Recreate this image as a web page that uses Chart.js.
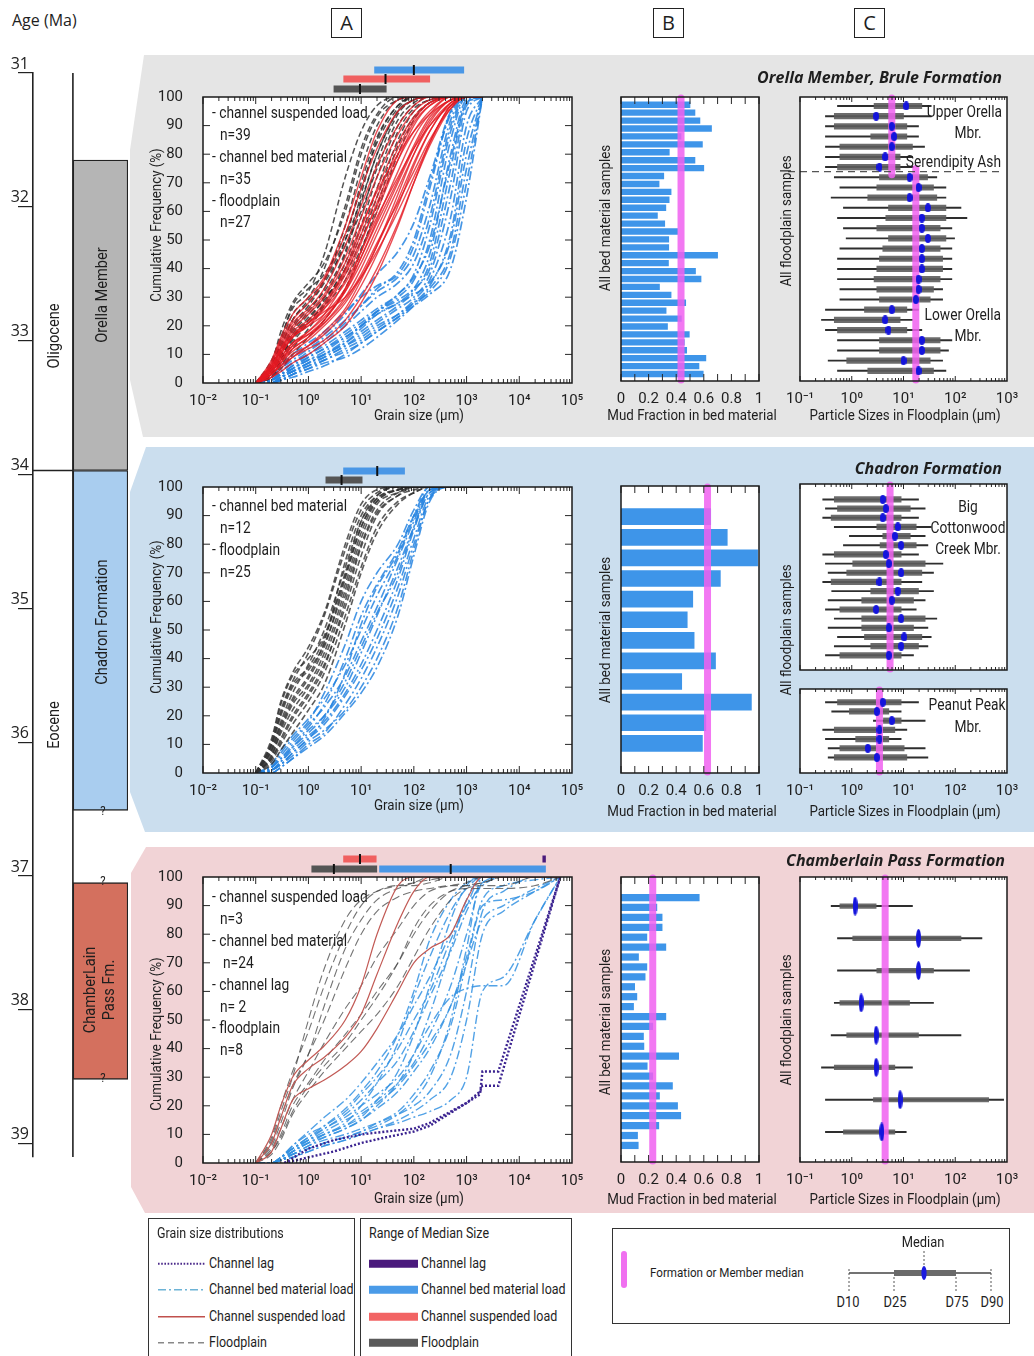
<!DOCTYPE html>
<html lang="en">
<head>
<meta charset="utf-8">
<title>Grain size distributions, White River Group</title>
<script src="https://cdn.jsdelivr.net/npm/chart.js@4.4.1/dist/chart.umd.min.js"></script>
<style>
  html, body { margin: 0; padding: 0; background: #fff; }
  body { position: relative; width: 1034px; height: 1356px; overflow: hidden;
         font-family: Roboto, sans-serif; color: #1e1e1e; }
  .bg { position: absolute; left: 128px; width: 906px; }
  #bg-orella  { top: 55px;  height: 382px; background: #e5e5e5;
                clip-path: polygon(16px 0, 906px 0, 906px 382px, 15px 382px, 2px 325px, 2px 95px); }
  #bg-chadron { top: 447px; height: 385px; background: #cbdeee;
                clip-path: polygon(18px 0, 906px 0, 906px 385px, 17px 385px, 2px 345px, 2px 45px); }
  #bg-chamber { top: 847px; height: 366px; background: #f1d3d6;
                clip-path: polygon(18px 0, 906px 0, 906px 366px, 17px 366px, 3px 340px, 3px 26px); }
  canvas { position: absolute; z-index: 2; }
  .t { position: absolute; z-index: 5; white-space: nowrap; line-height: 1; font-size: 15px; }
  .head { font-family: "Open Sans", sans-serif; font-weight: bold; font-style: italic; font-size: 16px; }
  .letter { position: absolute; top: 8px; width: 29px; height: 28px; border: 1.3px solid #222;
            font-family: "Open Sans", sans-serif; font-size: 20px; line-height: 28px; text-align: center; }
  .age { position: absolute; left: 12px; top: 9px; font-family: "Open Sans", sans-serif; font-size: 16px; }
  .legbox { position: absolute; border: 1.4px solid #333; background: #fff; z-index: 3; }
  .legbox .row { position: absolute; left: 8px; font-size: 14.5px; line-height: 1; white-space: nowrap;
                 display: flex; align-items: center; transform: translateY(-50%); }
  .legbox svg { display: block; margin-right: 2px; }
  .sq { display: inline-block; transform: scaleX(0.86); transform-origin: left center; }
</style>
</head>
<body>

<div id="bg-orella" class="bg"></div>
<div id="bg-chadron" class="bg"></div>
<div id="bg-chamber" class="bg"></div>

<div class="age">Age (Ma)</div>
<div class="letter" style="left:331px">A</div>
<div class="letter" style="left:653px">B</div>
<div class="letter" style="left:854px">C</div>

<!-- legend -->
<div class="legbox" style="left:148px; top:1218px; width:205px; height:140px">
  <div class="row" style="top:15px"><span class="sq">Grain size distributions</span></div>
  <div class="row" style="top:45px"><svg width="50" height="10"><line x1="1" y1="5" x2="48" y2="5" stroke="#4b2a8a" stroke-width="2" stroke-dasharray="1.6 1.6"/></svg><span class="sq">Channel lag</span></div>
  <div class="row" style="top:71px"><svg width="50" height="10"><line x1="1" y1="5" x2="48" y2="5" stroke="#6db3d6" stroke-width="1.4" stroke-dasharray="8 3 2 3"/></svg><span class="sq">Channel bed material load</span></div>
  <div class="row" style="top:98px"><svg width="50" height="10"><line x1="1" y1="5" x2="48" y2="5" stroke="#c0504d" stroke-width="1.4"/></svg><span class="sq">Channel suspended load</span></div>
  <div class="row" style="top:124px"><svg width="50" height="10"><line x1="1" y1="5" x2="48" y2="5" stroke="#888" stroke-width="1.4" stroke-dasharray="6 4"/></svg><span class="sq">Floodplain</span></div>
</div>
<div class="legbox" style="left:360px; top:1218px; width:210px; height:140px">
  <div class="row" style="top:15px"><span class="sq">Range of Median Size</span></div>
  <div class="row" style="top:45px"><svg width="50" height="10"><rect x="0" y="1" width="49" height="8" fill="#4a1a7c"/></svg><span class="sq">Channel lag</span></div>
  <div class="row" style="top:71px"><svg width="50" height="10"><rect x="0" y="1" width="49" height="8" fill="#4a9be8"/></svg><span class="sq">Channel bed material load</span></div>
  <div class="row" style="top:98px"><svg width="50" height="10"><rect x="0" y="1" width="49" height="8" fill="#f26464"/></svg><span class="sq">Channel suspended load</span></div>
  <div class="row" style="top:124px"><svg width="50" height="10"><rect x="0" y="1" width="49" height="8" fill="#5a5a5a"/></svg><span class="sq">Floodplain</span></div>
</div>
<div class="legbox" style="left:612px; top:1228px; width:396px; height:94px">
  <svg width="396" height="94" style="position:absolute;left:0;top:0">
    <rect x="8" y="22" width="6" height="37" rx="3" fill="#f070f0"/>
    <line x1="236" y1="44" x2="378" y2="44" stroke="#444" stroke-width="1.3"/>
    <rect x="281" y="41" width="62" height="6" fill="#6a6a6a"/>
    <ellipse cx="311" cy="44" rx="2.6" ry="7" fill="#1a1ae0"/>
    <g stroke="#555" stroke-width="1" stroke-dasharray="2 2">
      <line x1="311" y1="22" x2="311" y2="36"/>
      <line x1="236" y1="40" x2="236" y2="63"/>
      <line x1="281" y1="48" x2="281" y2="63"/>
      <line x1="343" y1="48" x2="343" y2="63"/>
      <line x1="378" y1="40" x2="378" y2="63"/>
    </g>
  </svg>
</div>

<script>
var FONT = "Roboto, sans-serif";

// ── stratigraphic column ─────────────────────────────────────────────────────
var ageTicks = [31, 32, 33, 34, 35, 36, 37, 38, 39];
var columnBottom = 39.1;
var epochBoundary = 33.97;           // Oligocene / Eocene
var formationNames = ["Orella Member", "Chadron Formation", "ChamberLain Pass Fm."];
var formationAges = [[31.65, 33.97], [33.97, 36.51], [37.05, 38.52]];

// ── shared grain-size grids (µm) ─────────────────────────────────────────────
var grainGrid   = [0.1, 0.2, 0.3, 0.5, 1, 2, 5, 10, 20, 50, 100, 200, 500, 1000, 2000];
var chamberGrid = [0.1, 0.2, 0.3, 0.5, 1, 2, 5, 10, 20, 50, 100, 200, 500, 1000, 2000, 5000, 20000, 60000];
var lagGrid     = [0.35, 1, 3, 10, 30, 100, 200, 1000, 1800, 2000, 4000, 60000];

// ── Orella Member, Brule Formation ──────────────────────────────────────────
var orellaSuspended = [
  [0,5,10,16,20,26,38,50,62,78,88,95,100,100,100],
  [0,4,8,13,17,22,32,42,54,70,82,92,99,100,100],
  [0,6,12,18,22,28,40,54,68,84,93,98,100,100,100],
  [0,3,7,11,15,20,28,37,48,64,77,88,98,100,100],
  [0,7,14,21,26,33,48,62,76,90,97,100,100,100,100],
  [0,4,9,14,18,23,32,44,57,74,86,94,100,100,100],
  [0,5,11,17,21,26,35,46,58,72,82,90,97,100,100],
  [0,3,6,10,13,17,25,34,45,62,76,88,98,100,100],
  [0,6,13,20,25,31,44,58,72,87,95,99,100,100,100],
  [0,4,8,12,16,21,30,40,52,68,80,90,98,100,100],
  [0,2,5,9,13,18,26,36,48,66,80,91,99,100,100],
  [0,8,16,24,30,37,55,72,88,99,100,100,100,100,100],
  [0,5,9,14,17,21,29,38,49,63,74,85,96,100,100],
  [0,3,7,12,16,22,33,46,60,78,90,97,100,100,100],
  [0,4,8,13,18,24,36,49,63,80,91,97,100,100,100],
  [0,6,11,16,20,24,33,44,56,71,83,93,99,100,100],
  [0,5,12,19,24,30,42,55,67,80,88,94,99,100,100],
  [0,3,6,9,12,15,22,30,40,56,70,83,96,100,100],
  [0,7,15,22,28,36,52,68,82,95,99,100,100,100,100],
  [0,2,4,7,10,14,20,28,38,55,70,84,97,100,100],
  [0,4,10,16,21,27,39,52,65,82,92,98,100,100,100],
  [0,6,12,17,21,25,30,37,46,60,72,84,97,100,100]
];
var orellaFloodplain = [
  [0,8,16,26,32,45,72,88,97,100,100,100,100,100,100],
  [0,6,14,24,30,40,62,82,94,100,100,100,100,100,100],
  [0,5,12,22,28,36,55,75,90,99,100,100,100,100,100],
  [0,4,10,18,25,33,50,70,86,97,100,100,100,100,100],
  [0,3,8,15,22,30,45,63,80,95,99,100,100,100,100],
  [0,5,11,20,27,35,48,60,75,92,98,100,100,100,100],
  [0,2,6,12,19,27,40,55,72,90,97,100,100,100,100],
  [0,4,9,17,24,30,38,50,65,85,95,99,100,100,100],
  [0,3,7,14,21,28,42,58,77,94,99,100,100,100,100],
  [0,6,15,27,33,38,52,68,84,96,100,100,100,100,100],
  [0,2,5,10,16,22,33,46,62,83,93,98,100,100,100],
  [0,4,10,19,26,32,46,66,85,97,100,100,100,100,100],
  [0,7,18,28,35,42,60,80,93,99,100,100,100,100,100],
  [0,3,8,16,23,29,40,52,68,88,96,99,100,100,100],
  [0,6,13,22,29,36,50,64,80,95,99,100,100,100,100],
  [0,4,9,16,22,27,36,47,60,80,92,98,100,100,100]
];
var orellaBed = [
  [0,0,2,4,7,10,14,18,22,27,32,42,75,98,100],
  [0,1,3,5,8,11,16,20,25,30,36,50,85,100,100],
  [0,0,1,3,6,9,13,17,21,26,30,38,65,95,100],
  [0,1,4,7,10,14,20,25,30,35,42,58,90,100,100],
  [0,0,2,4,6,8,12,15,19,24,29,36,58,90,100],
  [0,2,5,8,12,16,22,27,32,37,45,62,92,100,100],
  [0,0,1,2,4,6,10,14,18,23,28,34,52,85,100],
  [0,1,3,6,9,12,17,21,25,29,33,40,70,97,100],
  [0,2,6,10,14,18,25,30,34,38,48,68,95,100,100],
  [0,0,2,5,8,10,14,19,24,28,31,35,50,80,100],
  [0,1,4,7,11,15,21,27,33,39,50,70,94,100,100],
  [0,0,1,3,5,7,9,12,16,22,27,33,46,75,100],
  [0,1,3,6,10,13,18,22,26,31,38,55,88,100,100],
  [0,2,5,9,13,17,24,31,38,46,56,72,95,100,100],
  [0,0,2,4,7,9,13,16,20,24,28,32,44,70,100],
  [0,1,3,5,9,12,16,20,24,28,33,45,80,99,100],
  [0,1,2,4,7,10,15,20,25,31,37,48,78,98,100],
  [0,0,1,3,5,8,11,14,18,23,27,31,40,65,100]
];
// median-size ranges: [lowest, formation median, highest] in µm
var orellaBedRange       = [17.7, 100, 898];
var orellaSuspendedRange = [4.6, 29, 203];
var orellaFloodRange     = [3.0, 9.5, 30.4];
var orellaMud = [0.50,0.536,0.572,0.656,0.435,0.59,0.35,0.536,0.60,0.31,0.276,0.363,0.349,0.325,0.264,0.317,0.41,0.346,
                 0.346,0.70,0.344,0.54,0.58,0.279,0.363,0.469,0.327,0.4375,0.337,0.495,0.459,0.476,0.615,0.565,0.596];
var orellaMudMedian = 0.435;
// floodplain samples: [D10, D25, D50, D75, D90] in µm
var orellaD = [
  [0.53,2.7,11.3,22.6,34.3], [0.31,0.46,2.96,10,34.3], [0.31,0.46,5.94,11.6,19.5], [0.31,2.33,6.6,11.6,19.5],
  [0.31,0.59,5.94,14.9,25.5], [0.31,0.59,4.42,8.6,14.9], [0.31,0.53,3.43,8.6,15.5], [0.46,3.43,13.1,29.2,44],
  [0.59,3.05,19.5,38,66], [0.40,2.04,13.1,44,66], [0.69,5.13,29.6,66,129], [0.53,4.55,22.6,66,168],
  [0.69,3.05,22.6,51,86], [0.78,5.13,29.6,66,97], [0.59,3.98,22.6,51,86], [0.53,3.43,22.6,57,86],
  [0.53,3.05,22.6,57,86], [0.53,2.7,19.5,51,86], [0.59,3.05,19.5,38,57], [0.59,3.43,17.3,32.8,57],
  [0.31,1.76,5.94,11.6,19.5], [0.26,0.46,4.42,8.6,14.9], [0.31,0.53,5.13,11.6,22.6], [0.53,3.43,22.6,51,86],
  [0.53,3.43,22.6,51,74], [0.35,0.80,10,32.8,57], [0.53,2.04,19.5,38,66]
];
var upperOrellaMedian = 5.94;
var lowerOrellaMedian = 17.3;
var serendipityAsh = 7.45;           // position of the ash bed among the samples

// ── Chadron Formation ────────────────────────────────────────────────────────
var chadronFloodplain = [
  [0,10,22,32,42,55,78,92,98,100,100,100,100,100,100],
  [0,8,18,28,38,50,72,88,96,99,100,100,100,100,100],
  [0,12,25,35,44,56,80,94,99,100,100,100,100,100,100],
  [0,6,14,22,30,40,62,80,92,98,100,100,100,100,100],
  [0,9,20,30,36,45,66,84,95,99,100,100,100,100,100],
  [0,5,12,20,28,38,58,76,90,97,99,100,100,100,100],
  [0,11,24,34,40,48,70,88,97,100,100,100,100,100,100],
  [0,7,16,25,33,44,68,86,95,99,100,100,100,100,100],
  [0,4,10,17,25,35,55,72,86,95,98,100,100,100,100],
  [0,8,17,26,34,46,74,90,97,100,100,100,100,100,100],
  [0,6,15,24,31,42,64,82,94,98,100,100,100,100,100],
  [0,10,21,31,37,47,69,86,96,99,100,100,100,100,100],
  [0,5,11,19,27,37,60,79,91,97,100,100,100,100,100],
  [0,3,8,14,22,31,52,70,84,94,98,100,100,100,100]
];
var chadronBed = [
  [0,1,4,9,15,20,30,42,55,72,86,98,100,100,100],
  [0,2,6,11,17,23,34,46,58,75,88,99,100,100,100],
  [0,1,3,7,12,17,27,36,47,65,82,97,100,100,100],
  [0,2,5,10,16,24,40,55,66,78,90,99,100,100,100],
  [0,0,2,5,10,14,24,33,44,62,80,96,100,100,100],
  [0,3,8,13,19,26,38,50,62,76,89,99,100,100,100],
  [0,1,4,8,13,18,28,38,50,68,85,98,100,100,100],
  [0,2,7,12,18,28,45,60,70,80,92,100,100,100,100],
  [0,1,3,6,11,15,22,30,40,58,78,96,100,100,100],
  [0,2,5,9,14,20,32,44,56,70,86,99,100,100,100],
  [0,1,3,7,12,19,35,52,65,77,90,100,100,100,100],
  [0,0,2,5,9,13,21,28,37,55,76,95,100,100,100]
];
var chadronBedRange   = [4.57, 20.2, 67.6];
var chadronFloodRange = [2.11, 4.25, 10.6];
var chadronMud = [0.65, 0.77, 0.99, 0.72, 0.52, 0.48, 0.53, 0.685, 0.44, 0.945, 0.615, 0.59];
var chadronMudMedian = 0.627;
var bigCottonwoodD = [
  [0.275,0.46,3.98,9.0,19.5], [0.31,0.53,4.55,13.5,26.2], [0.275,0.40,3.98,9.0,19.5], [0.46,3.05,7.76,17.6,34.3],
  [0.90,3.98,6.8,13.5,26.2], [0.69,3.53,9.0,17.6,29.6], [0.275,0.46,4.55,9.0,19.5], [0.31,1.045,5.2,26.2,57.7],
  [0.35,0.80,9.0,22.6,38], [0.275,0.40,3.43,9.0,22.6], [0.41,2.33,7.76,19.5,38], [0.35,1.56,5.94,15.6,26.2],
  [0.31,0.59,2.96,9.0,17.6], [0.46,1.56,9.0,26.2,44], [0.35,1.56,5.2,15.6,29.6], [0.53,1.76,10.3,22.6,34.3],
  [0.46,2.33,9.0,19.5,29.6], [0.31,0.59,5.2,9.0,15.6]
];
var bigCottonwoodMedian = 5.5;
var peanutPeakD = [
  [0.31,0.53,3.98,9.0,19.5], [0.41,0.90,3.05,5.2,9.0], [2.62,4.1,5.94,9.0,26.2], [0.275,0.46,3.43,6.8,11.6],
  [0.31,1.19,3.43,5.2,9.0], [0.35,0.59,2.04,10.3,26.2], [0.35,0.46,3.05,11.6,29.6]
];
var peanutPeakMedian = 3.43;

// ── Chamberlain Pass Formation ───────────────────────────────────────────────
var chamberSuspended = [
  [0,10,20,30,36,41,50,62,80,97,100,100,100,100,100,100,100,100],
  [0,7,16,27,33,37,44,52,66,84,95,100,100,100,100,100,100,100],
  [0,4,12,22,26,29,34,39,47,60,70,75,80,92,100,100,100,100]
];
var chamberFloodplain = [
  [0,8,18,30,50,68,85,92,95,97,98,99,100,100,100,100,100,100],
  [0,6,14,26,38,55,75,85,92,96,98,100,100,100,100,100,100,100],
  [0,5,12,22,32,42,54,62,72,82,90,95,97,98,100,100,100,100],
  [0,4,10,20,28,36,45,52,60,70,80,88,95,97,98,100,100,100],
  [0,7,16,27,38,50,68,80,88,93,95,96,97,97,98,100,100,100],
  [0,3,8,17,25,32,40,46,52,62,72,82,92,96,97,97,100,100],
  [0,9,20,32,46,62,80,90,95,97,97,98,100,100,100,100,100,100],
  [0,4,9,18,27,34,42,50,58,70,82,90,95,96,96,96,97,100]
];
var chamberBed = [
  [0,0,1,4,7,9,12,15,20,28,38,52,75,92,100,100,100,100],
  [0,0,2,5,8,10,13,16,22,32,45,62,85,97,100,100,100,100],
  [0,0,1,3,5,7,9,11,13,17,22,30,50,75,100,100,100,100],
  [0,0,2,6,10,13,18,24,30,40,50,60,78,90,100,100,100,100],
  [0,0,1,4,7,10,14,20,28,42,58,72,88,96,100,100,100,100],
  [0,0,1,2,4,6,8,10,12,15,18,22,30,50,80,88,95,100],
  [0,0,2,5,9,13,19,25,32,45,60,78,92,98,100,100,100,100],
  [0,0,1,3,6,9,12,15,19,25,32,40,55,70,85,90,96,100],
  [0,0,2,5,8,11,15,18,22,28,35,45,62,80,98,100,100,100],
  [0,0,1,3,6,8,10,12,14,17,20,25,38,60,88,95,100,100],
  [0,0,2,6,11,16,22,28,35,45,55,65,80,90,97,100,100,100],
  [0,0,1,4,8,12,16,20,24,30,38,48,58,61,62,62,85,100],
  [0,0,1,2,4,6,8,10,12,14,16,18,22,30,60,65,85,100],
  [0,0,2,4,7,10,13,17,21,27,34,42,55,72,92,97,99,100],
  [0,0,1,3,5,7,9,11,14,18,24,32,48,70,90,92,95,100],
  [0,0,2,5,9,12,17,22,28,36,46,58,74,88,98,100,100,100]
];
var chamberLag = [
  [0,5,8,10,11,12,14,21,24,32,32,100],
  [0,2,4,7,9,11,13,21,25,27,27,100]
];
var chamberSuspendedRange = [4.57, 9.5, 19.6];
var chamberLagRange       = [27500, null, 31900];
var chamberFloodRange     = [1.14, 3.04, 20.1];
var chamberBedRange       = [22, 500, 31900];
var chamberMud = [0.567,0.26,0.298,0.298,0.1875,0.325,0.127,0.1875,0.175,0.099,0.115,0.091,0.325,
                  0.23,0.163,0.166,0.418,0.19,0.23,0.373,0.279,0.41,0.433,0.274,0.12,0.125];
var chamberMudMedian = 0.23;
var chamberD = [
  [0.40,0.59,1.16,2.96,14.9], [0.53,1.045,19.5,129,328], [0.53,3.05,19.5,38,189], [0.46,0.59,1.52,13.1,38],
  [0.40,0.80,2.96,19.5,129], [0.26,0.46,2.96,6.8,14.9], [0.31,2.62,8.6,442,861], [0.31,0.69,3.8,6.8,11.3]
];
var chamberMedian = 4.42;

var gsdDecades  = [0.01, 0.1, 1, 10, 100, 1000, 10000, 100000];
var sizeDecades = [0.1, 1, 10, 100, 1000];
var mudTicks    = [0, 0.2, 0.4, 0.6, 0.8, 1];

// ── helpers ──────────────────────────────────────────────────────────────────

Chart.defaults.font.family = FONT;
Chart.defaults.color = "#1e1e1e";

var SUP = { "-": "\u207B", "0": "\u2070", "1": "\u00B9", "2": "\u00B2", "3": "\u00B3", "4": "\u2074", "5": "\u2075" };
function powerLabel(v) {
  var e = String(Math.round(Math.log10(v)));
  return "10" + e.split("").map(function(c) { return SUP[c]; }).join("");
}

function makeCanvas(left, top, width, height) {
  var c = document.createElement("canvas");
  c.width = width; c.height = height;
  c.style.left = left + "px"; c.style.top = top + "px";
  c.style.width = width + "px"; c.style.height = height + "px";
  document.body.appendChild(c);
  return c;
}

// text placed on the figure; narrow by default, like the condensed type of the original
function note(text, x, y, opts) {
  opts = opts || {};
  var d = document.createElement("div");
  d.className = "t " + (opts.cls || "");
  if (opts.html) d.innerHTML = text; else d.textContent = text;
  d.style.left = x + "px"; d.style.top = y + "px";
  if (opts.size) d.style.fontSize = opts.size + "px";
  var sq = opts.squeeze == null ? 0.86 : opts.squeeze;
  var align = opts.rotate ? "center" : (opts.align || "left");
  var move = align === "right" ? "translate(-100%, -50%)" : align === "center" ? "translate(-50%, -50%)" : "translateY(-50%)";
  d.style.transformOrigin = align === "right" ? "right center" : align === "center" ? "center center" : "left center";
  d.style.transform = move + (opts.rotate ? " rotate(-90deg)" : "") + " scaleX(" + sq + ")";
  if (opts.rotate) { d.style.textAlign = "center"; d.style.lineHeight = "1.1"; }
  document.body.appendChild(d);
  return d;
}

function ellipseImage(w, h) {
  var c = document.createElement("canvas");
  c.width = w; c.height = h;
  var g = c.getContext("2d");
  g.fillStyle = "#1414dc";
  g.beginPath();
  g.ellipse(w / 2, h / 2, w / 2, h / 2, 0, 0, Math.PI * 2);
  g.fill();
  return c;
}

function curveDatasets(grid, curves, style) {
  return curves.map(function(ys) {
    return Object.assign({
      data: ys.map(function(y, i) { return { x: grid[i], y: y }; }),
      pointRadius: 0,
      fill: false,
      cubicInterpolationMode: "monotone"
    }, style);
  });
}

// ── plugins ──────────────────────────────────────────────────────────────────

var plotBg = {
  id: "plotBg",
  beforeDraw: function(chart) {
    var a = chart.chartArea, ctx = chart.ctx;
    ctx.save();
    ctx.fillStyle = "#fff";
    ctx.fillRect(a.left, a.top, a.width, a.height);
    ctx.restore();
  }
};

// box round the plot with inward tick marks, like the original figure
var frame = {
  id: "frame",
  afterDatasetsDraw: function(chart, args, o) {
    var a = chart.chartArea, ctx = chart.ctx, sx = chart.scales.x, sy = chart.scales.y;
    ctx.save();
    ctx.strokeStyle = "#262626";
    ctx.lineWidth = 1;
    ctx.beginPath();
    function vtick(v, len) {
      var px = sx.getPixelForValue(v);
      if (px < a.left - 0.5 || px > a.right + 0.5) return;
      ctx.moveTo(px, a.top); ctx.lineTo(px, a.top + len);
      ctx.moveTo(px, a.bottom); ctx.lineTo(px, a.bottom - len);
    }
    function htick(v, len) {
      var py = sy.getPixelForValue(v);
      ctx.moveTo(a.left, py); ctx.lineTo(a.left + len, py);
      ctx.moveTo(a.right, py); ctx.lineTo(a.right - len, py);
    }
    if (o.logX) {
      var d0 = Math.round(Math.log10(sx.min)), d1 = Math.round(Math.log10(sx.max));
      for (var d = d0; d < d1; d++) {
        for (var k = 1; k < 10; k++) vtick(k * Math.pow(10, d), k === 1 ? o.major : o.minor);
      }
    }
    if (o.xStep) {
      for (var v = sx.min; v <= sx.max + 1e-9; v += o.xStep) vtick(v, o.major);
    }
    if (o.yStep) {
      for (var w = sy.min + o.yStep; w < sy.max; w += o.yStep) htick(w, o.yLen);
    }
    ctx.stroke();
    ctx.lineWidth = 1.5;
    ctx.strokeStyle = "#1a1a1a";
    ctx.strokeRect(a.left, a.top, a.width, a.height);
    ctx.restore();
  }
};

// formation / member median, drawn after the given dataset
var medianLine = {
  id: "medianLine",
  afterDatasetDraw: function(chart, args, o) {
    if (!o.lines || args.index !== o.after) return;
    var ctx = chart.ctx, sx = chart.scales.x, sy = chart.scales.y, a = chart.chartArea;
    ctx.save();
    ctx.strokeStyle = "rgba(240, 96, 240, 0.85)";
    ctx.lineWidth = 7;
    ctx.lineCap = "round";
    o.lines.forEach(function(m) {
      var px = sx.getPixelForValue(m.value);
      var y0 = m.from == null ? a.top + 1 : sy.getPixelForValue(m.from);
      var y1 = m.to == null ? a.bottom - 1 : sy.getPixelForValue(m.to);
      ctx.beginPath(); ctx.moveTo(px, y0); ctx.lineTo(px, y1); ctx.stroke();
    });
    ctx.restore();
  }
};

// dashed marker line (Serendipity Ash)
var ashLine = {
  id: "ashLine",
  afterDatasetsDraw: function(chart, args, o) {
    if (o.value == null) return;
    var ctx = chart.ctx, a = chart.chartArea, py = chart.scales.y.getPixelForValue(o.value);
    ctx.save();
    ctx.strokeStyle = "#555";
    ctx.lineWidth = 1.3;
    ctx.setLineDash([7, 5]);
    ctx.beginPath(); ctx.moveTo(a.left - 12, py); ctx.lineTo(a.right - 6, py); ctx.stroke();
    ctx.restore();
  }
};

// range of median size above the distribution plots
var rangeBars = {
  id: "rangeBars",
  afterDraw: function(chart, args, o) {
    if (!o.bars) return;
    var ctx = chart.ctx, sx = chart.scales.x, top = chart.chartArea.top;
    ctx.save();
    o.bars.forEach(function(b) {
      var x0 = sx.getPixelForValue(b.range[0]), x1 = sx.getPixelForValue(b.range[2]);
      var yc = top - b.rise;
      ctx.fillStyle = b.color;
      ctx.fillRect(x0, yc - 3.5, Math.max(x1 - x0, 3), 7);
      if (b.range[1] != null) {
        var xm = sx.getPixelForValue(b.range[1]);
        ctx.fillStyle = "#111";
        ctx.fillRect(xm - 1, yc - 5, 2, 10);
      }
    });
    ctx.restore();
  }
};

// ── chart builders ───────────────────────────────────────────────────────────

function fixedTicks(values) {
  return function(s) { s.ticks = values.map(function(v) { return { value: v }; }); };
}

function logAxis(decades, showTicks, height) {
  return {
    type: "logarithmic",
    min: decades[0], max: decades[decades.length - 1],
    afterBuildTicks: fixedTicks(decades),
    ticks: { display: showTicks, callback: function(v) { return powerLabel(v); },
             autoSkip: false, maxRotation: 0, padding: 1, font: { size: 15 } },
    grid: { display: false },
    border: { display: false },
    afterFit: function(s) { s.height = height; }
  };
}

function sideAxis(width, range) {
  return {
    type: "linear", offset: false, reverse: true, min: range[0], max: range[1],
    ticks: { display: false },
    grid: { display: false },
    border: { display: false },
    afterFit: function(s) { s.width = width; }
  };
}

function baseOptions(padding) {
  return {
    responsive: false,
    animation: false,
    events: [],
    layout: { padding: padding },
    plugins: { legend: { display: false }, tooltip: { enabled: false } }
  };
}

function gsdChart(rect, datasets, bars) {
  var opts = baseOptions({ top: 47, right: 13, left: 0, bottom: 0 });
  opts.scales = {
    x: logAxis(gsdDecades, true, 53),
    y: {
      min: 0, max: 100,
      ticks: { stepSize: 10, padding: 12, font: { size: 15 } },
      grid: { display: false },
      border: { display: false },
      afterFit: function(s) { s.width = 68; }
    }
  };
  opts.plugins.frame = { logX: true, major: 7, minor: 4, yStep: 10, yLen: 7 };
  opts.plugins.rangeBars = { bars: bars };
  return new Chart(makeCanvas(rect[0], rect[1], rect[2], rect[3]), {
    type: "line",
    data: { datasets: datasets },
    options: opts,
    plugins: [plotBg, frame, rangeBars]
  });
}

function mudChart(rect, values, median, yRange, thickness) {
  var opts = baseOptions({ top: rect[4], right: 13, left: 0, bottom: 0 });
  opts.indexAxis = "y";
  opts.scales = {
    x: {
      type: "linear", min: 0, max: 1,
      afterBuildTicks: fixedTicks(mudTicks),
      ticks: { padding: 1, font: { size: 15 }, callback: function(v) { return String(+v.toFixed(1)); } },
      grid: { display: false },
      border: { display: false },
      afterFit: function(s) { s.height = 53; }
    },
    y: sideAxis(29, yRange)
  };
  opts.plugins.frame = { xStep: 0.1, major: 7 };
  opts.plugins.medianLine = { after: 0, lines: [{ value: median }] };
  return new Chart(makeCanvas(rect[0], rect[1], rect[2], rect[3]), {
    type: "bar",
    data: { datasets: [{
      data: values.map(function(v, i) { return { x: v, y: i + 1 }; }),
      backgroundColor: "#3e95e9",
      borderWidth: 0,
      barThickness: thickness
    }] },
    options: opts,
    plugins: [plotBg, medianLine, frame]
  });
}

function boxChart(rect, rows, cfg) {
  var opts = baseOptions({ top: rect[4], right: 25, left: 0, bottom: 0 });
  opts.indexAxis = "y";
  opts.scales = {
    x: logAxis(sizeDecades, cfg.xTicks, cfg.xTicks ? 53 : 0),
    y: sideAxis(30, cfg.yRange)
  };
  opts.plugins.frame = { logX: true, major: 5, minor: 3 };
  opts.plugins.medianLine = { after: 1, lines: cfg.medians };
  opts.plugins.ashLine = { value: cfg.ash };
  return new Chart(makeCanvas(rect[0], rect[1], rect[2], rect[3]), {
    type: "bar",
    data: { datasets: [
      { data: rows.map(function(r, i) { return { x: [r[0], r[4]], y: i + 1 }; }),
        backgroundColor: "#2e2e2e", barThickness: 1.3, grouped: false, order: 2 },
      { data: rows.map(function(r, i) { return { x: [r[1], r[3]], y: i + 1 }; }),
        backgroundColor: "rgba(92, 92, 92, 0.9)", barThickness: cfg.box, grouped: false, order: 1 },
      { type: "scatter", data: rows.map(function(r, i) { return { x: r[2], y: i + 1 }; }),
        pointStyle: cfg.dot, pointRadius: 3, order: 0 }
    ] },
    options: opts,
    plugins: [plotBg, medianLine, ashLine, frame]
  });
}

// ── line styles ──────────────────────────────────────────────────────────────

var dashDot = [9, 3, 2, 3];
var styles = {
  suspTop:  { borderColor: "rgba(228, 26, 34, 0.78)", borderWidth: 1.4 },
  floodTop: { borderColor: "rgba(40, 40, 40, 0.8)", borderWidth: 1.5, borderDash: [6, 3] },
  bedTop:   { borderColor: "rgba(38, 132, 224, 0.85)", borderWidth: 1.7, borderDash: dashDot },
  floodMid: { borderColor: "rgba(50, 50, 50, 0.8)", borderWidth: 1.6, borderDash: [6, 3] },
  bedMid:   { borderColor: "rgba(38, 132, 224, 0.85)", borderWidth: 1.6, borderDash: dashDot },
  suspBot:  { borderColor: "#c25a55", borderWidth: 1.2 },
  floodBot: { borderColor: "rgba(70, 70, 70, 0.75)", borderWidth: 1.1, borderDash: [8, 4] },
  bedBot:   { borderColor: "rgba(52, 146, 226, 0.85)", borderWidth: 1.4, borderDash: dashDot },
  lagBot:   { borderColor: "#3b2390", borderWidth: 2.4, borderDash: [2, 2], cubicInterpolationMode: "default", tension: 0 }
};
var BLUE = "#4a97e6", RED = "#f06060", GREY = "#555555", PURPLE = "#4a1a7c";

// ── stratigraphic column ─────────────────────────────────────────────────────

new Chart(makeCanvas(0, 40, 140, 1122), {
  type: "bar",
  data: { datasets: [
    { data: formationAges.map(function(r) { return { x: 0.71, y: r }; }),
      backgroundColor: ["#b5b5b5", "#a9cdef", "#d4705e"], borderColor: "#222", borderWidth: 1.4,
      borderSkipped: false, barThickness: 55 },
    { type: "line", data: [{ x: 0.42, y: ageTicks[0] }, { x: 0.42, y: columnBottom }],
      borderColor: "#222", borderWidth: 1.6, pointRadius: 0 },
    { type: "line", data: [{ x: 0, y: epochBoundary }, { x: 0.42, y: epochBoundary }],
      borderColor: "#222", borderWidth: 1.4, pointRadius: 0 }
  ] },
  options: Object.assign(baseOptions({ top: 33, right: 12, left: 0, bottom: 5 }), {
    scales: {
      x: { type: "linear", min: 0, max: 1, offset: false, display: false },
      y: {
        type: "linear", reverse: true, min: ageTicks[0], max: columnBottom, offset: false,
        afterBuildTicks: fixedTicks(ageTicks),
        ticks: { padding: -11, labelOffset: -9, font: { family: "'Open Sans', sans-serif", size: 16 }, color: "#222" },
        grid: { drawOnChartArea: false, tickLength: 15, color: "#222", lineWidth: 1.2 },
        border: { display: true, color: "#222", width: 1.6 },
        afterFit: function(s) { s.width = 33; }
      }
    }
  })
});

note("Oligocene", 53, 336, { rotate: true, size: 17 });
note("Eocene", 53, 725, { rotate: true, size: 17 });
note(formationNames[0], 101, 295, { rotate: true, size: 17 });
note(formationNames[1], 101, 622, { rotate: true, size: 17 });
note("ChamberLain<br>Pass Fm.", 99, 990, { rotate: true, size: 17, html: true });
note("?", 103, 810, { align: "center", size: 13 });
note("?", 103, 880, { align: "center", size: 13 });
note("?", 103, 1077, { align: "center", size: 13 });

// ── A: grain size distributions ──────────────────────────────────────────────

gsdChart([135, 50, 450, 386],
  curveDatasets(grainGrid, orellaSuspended, styles.suspTop)
    .concat(curveDatasets(grainGrid, orellaFloodplain, styles.floodTop))
    .concat(curveDatasets(grainGrid, orellaBed, styles.bedTop)),
  [{ range: orellaBedRange, color: BLUE, rise: 27 },
   { range: orellaSuspendedRange, color: RED, rise: 18 },
   { range: orellaFloodRange, color: GREY, rise: 8 }]);

gsdChart([135, 440, 450, 386],
  curveDatasets(grainGrid, chadronFloodplain, styles.floodMid)
    .concat(curveDatasets(grainGrid, chadronBed, styles.bedMid)),
  [{ range: chadronBedRange, color: BLUE, rise: 16 },
   { range: chadronFloodRange, color: GREY, rise: 7 }]);

gsdChart([135, 830, 450, 386],
  curveDatasets(lagGrid, chamberLag, styles.lagBot)
    .concat(curveDatasets(chamberGrid, chamberSuspended, styles.suspBot))
    .concat(curveDatasets(chamberGrid, chamberFloodplain, styles.floodBot))
    .concat(curveDatasets(chamberGrid, chamberBed, styles.bedBot)),
  [{ range: chamberSuspendedRange, color: RED, rise: 18 },
   { range: chamberLagRange, color: PURPLE, rise: 18 },
   { range: chamberFloodRange, color: GREY, rise: 8 },
   { range: chamberBedRange, color: BLUE, rise: 8 }]);

[["- channel suspended load", 212, 113], ["n=39", 220, 135], ["- channel bed material", 212, 157],
 ["n=35", 220, 179], ["- floodplain", 212, 201], ["n=27", 220, 222],
 ["- channel bed material", 212, 506], ["n=12", 220, 528], ["- floodplain", 212, 550], ["n=25", 220, 572],
 ["- channel suspended load", 212, 897], ["n=3", 220, 919], ["- channel bed material", 212, 941],
 ["n=24", 223, 963], ["- channel lag", 212, 985], ["n= 2", 220, 1007], ["- floodplain", 212, 1028],
 ["n=8", 220, 1050]].forEach(function(n) { note(n[0], n[1], n[2], { size: 16 }); });

// axis titles
[225, 617, 1034].forEach(function(y) { note("Cumulative  Frequency (%)", 157, y, { rotate: true, size: 15.5 }); });
[416, 806, 1199].forEach(function(y) { note("Grain size (\u00B5m)", 419, y, { align: "center", size: 15.5 }); });

// ── B: mud fraction ──────────────────────────────────────────────────────────

mudChart([592, 50, 180, 384, 47], orellaMud, orellaMudMedian, [0.02, 35.88], 5.7);
mudChart([592, 439, 180, 387, 47], chadronMud, chadronMudMedian, [-0.49, 13.44], 16);
mudChart([592, 830, 180, 385, 47], chamberMud, chamberMudMedian, [-1.07, 27.67], 6.6);

[218, 630, 1022].forEach(function(y) { note("All bed material samples", 606, y, { rotate: true, size: 15.5 }); });
[416, 812, 1200].forEach(function(y) { note("Mud Fraction in bed material", 692, y, { align: "center", size: 15.5 }); });

// ── C: floodplain particle sizes ─────────────────────────────────────────────

var dotSmall = ellipseImage(6, 9);
var dotTall = ellipseImage(5, 19);

boxChart([770, 50, 262, 384, 47], orellaD, {
  xTicks: true, yRange: [0.12, 28], box: 5.5, dot: dotSmall,
  medians: [{ value: upperOrellaMedian, to: serendipityAsh + 0.3 },
            { value: lowerOrellaMedian, from: serendipityAsh - 0.3 }],
  ash: serendipityAsh
});
boxChart([770, 470, 262, 205, 14], bigCottonwoodD, {
  xTicks: false, yRange: [-0.68, 19.6], box: 5.5, dot: dotSmall,
  medians: [{ value: bigCottonwoodMedian }]
});
boxChart([770, 680, 262, 146, 9], peanutPeakD, {
  xTicks: true, yRange: [-0.44, 8.69], box: 5.5, dot: dotSmall,
  medians: [{ value: peanutPeakMedian }]
});
boxChart([770, 830, 262, 385, 47], chamberD, {
  xTicks: true, yRange: [0.1, 8.93], box: 4.5, dot: dotTall,
  medians: [{ value: chamberMedian }]
});

[221, 630, 1020].forEach(function(y) { note("All floodplain samples", 787, y, { rotate: true, size: 15.5 }); });
[416, 812, 1200].forEach(function(y) { note("Particle Sizes in Floodplain (\u00B5m)", 905, y, { align: "center", size: 15.5 }); });

note("Upper Orella", 1002, 112, { align: "right", size: 16 });
note("Mbr.", 968, 133, { align: "center", size: 16 });
note("Serendipity Ash", 1001, 162, { align: "right", size: 16 });
note("Lower Orella", 1001, 315, { align: "right", size: 16 });
note("Mbr.", 968, 336, { align: "center", size: 16 });
note("Big", 968, 507, { align: "center", size: 16 });
note("Cottonwood", 968, 528, { align: "center", size: 16 });
note("Creek Mbr.", 968, 549, { align: "center", size: 16 });
note("Peanut Peak", 967, 705, { align: "center", size: 16 });
note("Mbr.", 968, 727, { align: "center", size: 16 });

// ── legend texts (formation median / box plot key) ───────────────────────────

note("Formation or Member median", 650, 1273, { size: 13.5 });
note("Median", 923, 1242, { align: "center", size: 15 });
note("D10", 848, 1302, { align: "center", size: 15 });
note("D25", 895, 1302, { align: "center", size: 15 });
note("D75", 957, 1302, { align: "center", size: 15 });
note("D90", 992, 1302, { align: "center", size: 15 });

// ── panel headings ───────────────────────────────────────────────────────────

note("Orella Member, Brule Formation", 1002, 77, { cls: "head", align: "right", squeeze: 1 });
note("Chadron Formation", 1002, 468, { cls: "head", align: "right", squeeze: 1 });
note("Chamberlain Pass Formation", 1005, 860, { cls: "head", align: "right", squeeze: 1 });
</script>
</body>
</html>
